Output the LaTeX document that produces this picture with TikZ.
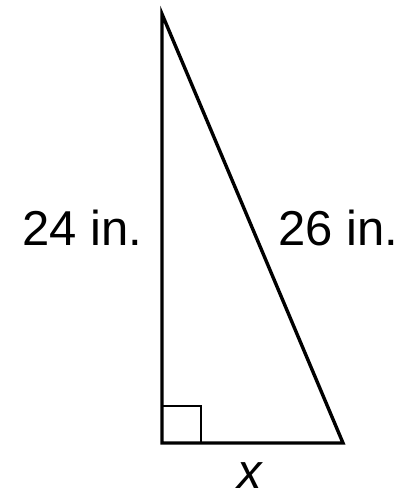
\documentclass[tikz,border=0pt]{standalone}
\usepackage{fontspec}
\setmainfont{Liberation Sans}
\begin{document}
\begin{tikzpicture}[x=0.5pt,y=-0.5pt,
  lbl/.style={inner sep=0pt,font=\fontsize{24.5}{29}\selectfont}]
\useasboundingbox (0,0) rectangle (406,495);
\coordinate (T) at (162,14);
\coordinate (B) at (162,443);
\coordinate (R) at (343,443);
\draw[line width=1.7pt,line join=miter] (T) -- (B) -- (R) -- cycle;
\draw[line width=1.1pt] (162,406) -- (201,406) -- (201,443);
\node[lbl,anchor=base west] (a) at (22,245) {24 in.};
\node[lbl,anchor=base west] (c) at (278,245) {26 in.};
\node[lbl,anchor=base] (x) at (250,488) {\itshape x};
\end{tikzpicture}
\end{document}
